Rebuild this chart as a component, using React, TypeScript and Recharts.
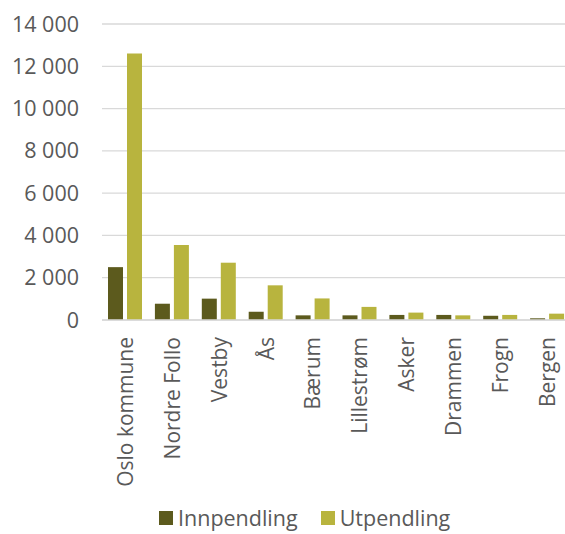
import React from 'react';
import { BarChart, Bar, XAxis, YAxis, CartesianGrid, Legend } from 'recharts';

const kommuner = [
  'Oslo kommune',
  'Nordre Follo',
  'Vestby',
  'Ås',
  'Bærum',
  'Lillestrøm',
  'Asker',
  'Drammen',
  'Frogn',
  'Bergen',
];
const innpendling = [2500, 770, 1010, 390, 220, 220, 240, 240, 200, 80];
const utpendling = [12600, 3550, 2710, 1640, 1020, 620, 350, 220, 240, 300];
const yTicks = [0, 2000, 4000, 6000, 8000, 10000, 12000, 14000];

const INN_COLOR = '#5C5A1D';
const UT_COLOR = '#B8B43E';
const TEXT_COLOR = '#595959';
const FONT = '"Open Sans", sans-serif';

const data = kommuner.map((name, i) => ({
  name,
  Innpendling: innpendling[i],
  Utpendling: utpendling[i],
}));

const formatThousands = (v: number) =>
  String(v).replace(/\B(?=(\d{3})+(?!\d))/g, ' ');

const XTick = (props: any) => {
  const { x, y, payload } = props;
  return (
    <g transform={`translate(${x},${y + 17})`}>
      <text
        transform="rotate(-90)"
        textAnchor="end"
        dy="0.35em"
        fill={TEXT_COLOR}
        fontSize={21}
        fontFamily={FONT}
      >
        {payload.value}
      </text>
    </g>
  );
};

const LegendContent = () => {
  const items = [
    { label: 'Innpendling', color: INN_COLOR },
    { label: 'Utpendling', color: UT_COLOR },
  ];
  return (
    <div
      style={{
        height: 22,
        display: 'flex',
        alignItems: 'center',
        paddingLeft: 159,
        fontFamily: FONT,
        fontSize: 21.5,
        lineHeight: '22px',
        color: TEXT_COLOR,
      }}
    >
      {items.map((it, i) => (
        <div
          key={it.label}
          style={{ display: 'flex', alignItems: 'center', marginRight: i === 0 ? 23 : 0 }}
        >
          <span
            style={{ width: 14, height: 14, background: it.color, display: 'inline-block', marginRight: 5 }}
          />
          <span>{it.label}</span>
        </div>
      ))}
    </div>
  );
};

export default function App() {
  return (
    <div
      style={{
        position: 'absolute',
        left: 0,
        top: 0,
        width: 565,
        height: 534,
        overflow: 'hidden',
        background: '#fff',
      }}
    >
      <BarChart
        width={575}
        height={534}
        data={data}
        margin={{ top: 24, right: 4, left: 0, bottom: 0 }}
        barSize={15}
        barGap={4}
      >
        <CartesianGrid vertical={false} stroke="#D9D9D9" strokeWidth={1.3} />
        <XAxis
          dataKey="name"
          interval={0}
          height={192}
          tickLine={false}
          tickSize={0}
          tickMargin={0}
          axisLine={{ stroke: '#D9D9D9', strokeWidth: 1.3 }}
          tick={<XTick />}
        />
        <YAxis
          width={102}
          domain={[0, 14000]}
          ticks={yTicks}
          interval={0}
          axisLine={false}
          tickLine={false}
          tickSize={0}
          tickMargin={23}
          tickFormatter={formatThousands}
          tick={{ fill: TEXT_COLOR, fontSize: 21.5, fontFamily: FONT }}
        />
        <Legend
          verticalAlign="bottom"
          content={<LegendContent />}
          wrapperStyle={{ left: 0, width: 575, bottom: 5 }}
        />
        <Bar dataKey="Innpendling" fill={INN_COLOR} isAnimationActive={false} />
        <Bar dataKey="Utpendling" fill={UT_COLOR} isAnimationActive={false} />
      </BarChart>
    </div>
  );
}
